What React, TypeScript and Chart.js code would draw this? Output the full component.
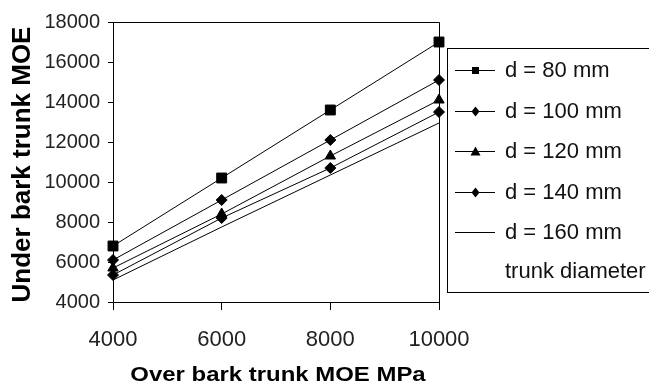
import React, { useEffect, useRef } from "react";
import { Chart, registerables } from "chart.js";

Chart.register(...registerables);

const xValues = [4000, 6000, 8000, 10000];
const seriesLabels = ["d = 80 mm", "d = 100 mm", "d = 120 mm", "d = 140 mm", "d = 160 mm"];
const d80 = [6800, 10200, 13600, 17000];
const d100 = [6100, 9100, 12100, 15100];
const d120 = [5700, 8400, 11300, 14100];
const d140 = [5350, 8200, 10700, 13500];
const d160 = [5100, 7750, 10350, 12950];
const legendNote = "trunk diameter";
const xTitle = "Over bark trunk MOE MPa";
const yTitle = "Under bark trunk MOE";
const xMin = 4000, xMax = 10000, xStep = 2000;
const yMin = 4000, yMax = 18000, yStep = 2000;

const seriesValues = [d80, d100, d120, d140, d160];
const pointStyles: any[] = ["rect", "rectRot", "triangle", "rectRot", false];
const pointRadii = [7, 5.5, 6, 5.5, 0];

const FONT = "'Liberation Sans', Arial, sans-serif";

function drawMarker(ctx: CanvasRenderingContext2D, style: any, x: number, y: number) {
  ctx.beginPath();
  if (style === "rect") {
    ctx.rect(x - 3.5, y - 3.5, 7, 7);
  } else if (style === "rectRot") {
    ctx.moveTo(x - 4, y);
    ctx.lineTo(x, y - 5);
    ctx.lineTo(x + 4, y);
    ctx.lineTo(x, y + 5);
    ctx.closePath();
  } else if (style === "triangle") {
    ctx.moveTo(x, y - 5);
    ctx.lineTo(x + 5, y + 4);
    ctx.lineTo(x - 5, y + 4);
    ctx.closePath();
  } else {
    return;
  }
  ctx.fill();
}

const decorPlugin = {
  id: "decor",
  afterDraw(chart: any) {
    const ctx: CanvasRenderingContext2D = chart.ctx;
    const a = chart.chartArea;
    ctx.save();
    ctx.strokeStyle = "#000";
    ctx.lineWidth = 1;
    ctx.beginPath();
    const L = Math.round(a.left) + 0.5, R = Math.round(a.right) + 0.5, T = Math.round(a.top) + 0.5;
    ctx.moveTo(L, T);
    ctx.lineTo(R, T);
    ctx.lineTo(R, Math.round(a.bottom) + 0.5);
    ctx.stroke();

    ctx.fillStyle = "#000";
    ctx.textAlign = "center";
    ctx.textBaseline = "middle";
    ctx.save();
    ctx.translate(278, 375);
    ctx.scale(1.14, 1);
    ctx.font = `bold 21px ${FONT}`;
    ctx.fillText(xTitle, 0, 0);
    ctx.restore();

    ctx.save();
    ctx.translate(23, 164.5);
    ctx.rotate(-Math.PI / 2);
    ctx.font = `bold 26px ${FONT}`;
    ctx.fillText(yTitle, 0, 0);
    ctx.restore();

    const bx = 447.5, by = 48.5, bw = 220, bh = 244;
    ctx.fillStyle = "#fff";
    ctx.fillRect(bx, by, bw, bh);
    ctx.strokeStyle = "#000";
    ctx.strokeRect(bx, by, bw, bh);
    const rows = [70, 111, 151, 192, 232];
    ctx.font = `22px ${FONT}`;
    ctx.textAlign = "left";
    ctx.textBaseline = "middle";
    seriesLabels.forEach((lab, i) => {
      const y = rows[i];
      ctx.beginPath();
      ctx.strokeStyle = "#000";
      ctx.moveTo(455, y + 0.5);
      ctx.lineTo(495, y + 0.5);
      ctx.stroke();
      ctx.fillStyle = "#000";
      drawMarker(ctx, pointStyles[i], 475.5, y + 0.5);
      ctx.fillStyle = "#111";
      ctx.fillText(lab, 505, y + 1);
    });
    ctx.fillText(legendNote, 505, 272);
    ctx.restore();
  },
};

export default function App() {
  const ref = useRef<HTMLCanvasElement>(null);
  useEffect(() => {
    const datasets = seriesLabels.map((label, i) => ({
      label,
      data: xValues.map((x, j) => ({ x, y: seriesValues[i][j] })),
      borderColor: "#000",
      backgroundColor: "#000",
      borderWidth: 1,
      pointStyle: pointStyles[i],
      pointRadius: pointRadii[i],
      pointBorderWidth: 1,
      pointBackgroundColor: "#000",
      pointBorderColor: "#000",
      tension: 0,
      clip: false as any,
    }));
    const chart = new Chart(ref.current!, {
      type: "line",
      data: { datasets },
      plugins: [decorPlugin],
      options: {
        animation: false,
        responsive: false,
        devicePixelRatio: 1,
        layout: { padding: { left: 0, top: 22, right: 210, bottom: 0 } },
        plugins: { legend: { display: false }, tooltip: { enabled: false } },
        scales: {
          x: {
            type: "linear",
            min: xMin,
            max: xMax,
            afterFit: (s: any) => { s.height = 84; },
            ticks: {
              stepSize: xStep,
              autoSkip: false,
              maxRotation: 0,
              color: "#222",
              padding: 17,
              font: { family: FONT, size: 22 },
              callback: (v: any) => String(v),
            },
            grid: { display: true, drawOnChartArea: false, drawTicks: true, tickLength: 8, color: "#000" },
            border: { display: true, color: "#000", width: 1 },
          },
          y: {
            type: "linear",
            min: yMin,
            max: yMax,
            afterFit: (s: any) => { s.width = 113; },
            ticks: {
              stepSize: yStep,
              autoSkip: false,
              color: "#222",
              padding: 8,
              font: { family: FONT, size: 20 },
              callback: (v: any) => String(v),
            },
            grid: { display: true, drawOnChartArea: false, drawTicks: true, tickLength: 5, color: "#000" },
            border: { display: true, color: "#000", width: 1 },
          },
        },
      },
    });
    return () => chart.destroy();
  }, []);
  return (
    <div style={{ position: "fixed", left: 0, top: 0, width: 649, height: 386, background: "#fff" }}>
      <canvas ref={ref} width={649} height={386} style={{ display: "block", width: 649, height: 386 }} />
    </div>
  );
}
